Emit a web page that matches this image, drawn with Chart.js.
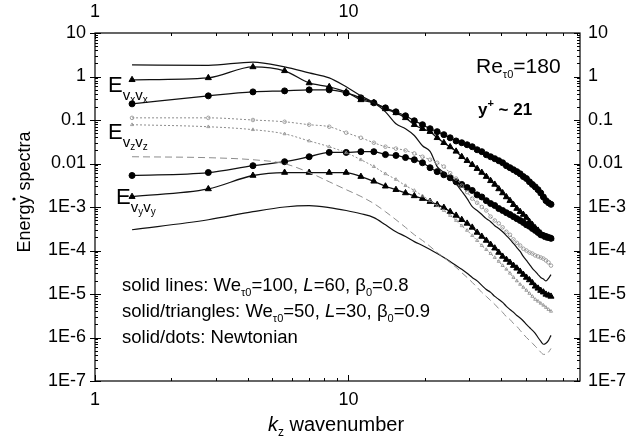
<!DOCTYPE html>
<html>
<head>
<meta charset="utf-8">
<script src="https://cdn.jsdelivr.net/npm/chart.js@4"></script>
<style>
  html, body { margin: 0; padding: 0; background: #fff; }
  #wrap { width: 643px; height: 437px; }
</style>
</head>
<body>
<div id="wrap"><canvas id="chart" width="643" height="437"></canvas></div>
<script>
// wavenumbers kz (the same grid for every curve)
var kz = [1.4, 2.8, 4.2, 5.6, 7.0, 8.4, 9.8, 11.2, 12.6, 14.0, 15.4, 16.8, 18.2, 19.6, 21.0,
  22.4, 23.8, 25.2, 26.6, 28.0, 29.4, 30.8, 32.2, 33.6, 35.0, 36.4, 37.8, 39.2, 40.6, 42.0,
  43.4, 44.8, 46.2, 47.6, 49.0, 50.4, 51.8, 53.2, 54.6, 56.0, 57.4, 58.8, 60.2, 61.6, 63.0];

// Evxvx
var vxLines = [1.85, 1.8, 2.15, 1.66, 1.21, 0.93, 0.58, 0.36, 0.248, 0.154, 0.082, 0.063, 0.044, 0.0256, 0.019,
  0.0085, 0.0062, 0.0045, 0.0034, 0.0023, 0.00156, 0.00102, 8.3e-4, 6.7e-4, 5.4e-4, 4.6e-4, 3.7e-4, 3.2e-4, 2.7e-4, 2.2e-4,
  1.8e-4, 1.45e-4, 1.17e-4, 9.5e-5, 7.3e-5, 5.9e-5, 4.8e-5, 3.9e-5, 3.3e-5, 2.8e-5, 2.4e-5, 2.2e-5, 2.0e-5, 2.3e-5, 2.8e-5];
var vxTriangles = [0.84, 0.93, 1.66, 1.35, 0.71, 0.58, 0.44, 0.29, 0.25, 0.18, 0.146, 0.112, 0.078, 0.063, 0.054,
  0.039, 0.030, 0.024, 0.019, 0.0143, 0.0116, 0.0094, 0.0076, 0.0062, 0.0050, 0.0040, 0.0033, 0.0026, 0.0021, 0.0017,
  0.0014, 0.00113, 0.00092, 0.00078, 0.00067, 0.00057, 0.00046, 0.00039, 0.00033, 0.00029, 0.00025, 0.00022, 0.0002, 0.00019, 0.00019];
var vxDots = [0.235, 0.359, 0.443, 0.467, 0.493, 0.493, 0.42, 0.323, 0.248, 0.19, 0.154, 0.125, 0.096, 0.078, 0.063,
  0.054, 0.046, 0.039, 0.033, 0.030, 0.027, 0.0243, 0.0207, 0.0187, 0.0159, 0.0143, 0.0129, 0.0116, 0.0104, 0.0089,
  0.0080, 0.0072, 0.0065, 0.0058, 0.0050, 0.0045, 0.0038, 0.0033, 0.0029, 0.0025, 0.0021, 0.0017, 0.0014, 0.00125, 0.00115];

// Evyvy
var vyLines = [3.0e-4, 5.1e-4, 7.8e-4, 1.0e-3, 1.07e-3, 9.7e-4, 8.3e-4, 7.0e-4, 5.7e-4, 3.9e-4, 2.7e-4, 2.1e-4, 1.6e-4, 1.3e-4, 1.05e-4,
  8.5e-5, 6.9e-5, 5.6e-5, 4.5e-5, 3.7e-5, 3.0e-5, 2.4e-5, 2.0e-5, 1.58e-5, 1.27e-5, 1.09e-5, 8.8e-6, 7.5e-6, 6.4e-6, 5.2e-6,
  4.4e-6, 3.8e-6, 3.2e-6, 2.8e-6, 2.4e-6, 2.0e-6, 1.7e-6, 1.46e-6, 1.25e-6, 1.0e-6, 8.2e-7, 7.0e-7, 7.4e-7, 8.6e-7, 1.12e-6];
var vyTriangles = [1.73e-3, 2.6e-3, 5.3e-3, 6.2e-3, 6.2e-3, 6.2e-3, 6.2e-3, 5.0e-3, 3.9e-3, 3.0e-3, 2.5e-3, 2.1e-3, 1.8e-3, 1.56e-3, 1.33e-3,
  1.13e-3, 9.7e-4, 7.8e-4, 6.4e-4, 5.1e-4, 4.2e-4, 3.4e-4, 2.6e-4, 2.1e-4, 1.7e-4, 1.37e-4, 1.13e-4, 9.0e-5, 7.3e-5, 6.2e-5,
  5.3e-5, 4.5e-5, 3.9e-5, 3.3e-5, 2.8e-5, 2.4e-5, 2.1e-5, 1.8e-5, 1.5e-5, 1.35e-5, 1.2e-5, 1.1e-5, 9.8e-6, 9.3e-6, 8.8e-6];
var vyDots = [0.0053, 0.0062, 0.0089, 0.011, 0.0143, 0.018, 0.018, 0.0187, 0.0187, 0.016, 0.0153, 0.0137, 0.0122, 0.0104, 0.008,
  0.0065, 0.0055, 0.0047, 0.0038, 0.0033, 0.0028, 0.0024, 0.0019, 0.0017, 0.0014, 0.0012, 0.00108, 0.00092, 0.00083, 0.00074,
  0.00067, 0.0006, 0.00054, 0.00049, 0.00044, 0.00039, 0.00036, 0.00032, 0.00029, 0.00026, 0.00023, 0.00022, 0.00021, 0.0002, 0.00019];

// Evzvz (grey curves)
var vzLines = [0.0143, 0.0136, 0.0122, 0.0099, 0.0062, 0.0038, 0.0025, 0.00175, 0.0012, 7.8e-4, 5.1e-4, 3.4e-4, 2.3e-4, 1.7e-4, 1.24e-4,
  9.0e-5, 6.9e-5, 5.3e-5, 4.1e-5, 3.1e-5, 2.4e-5, 1.85e-5, 1.42e-5, 1.09e-5, 8.8e-6, 7.1e-6, 5.8e-6, 4.6e-6, 3.8e-6, 3.0e-6,
  2.6e-6, 2.1e-6, 1.8e-6, 1.46e-6, 1.2e-6, 1.0e-6, 8.6e-7, 7.4e-7, 6.3e-7, 5.4e-7, 4.6e-7, 4.1e-7, 4.1e-7, 4.6e-7, 5.6e-7];
var vzTriangles = [0.078, 0.070, 0.060, 0.048, 0.033, 0.0243, 0.0177, 0.0122, 0.0085, 0.0058, 0.0043, 0.0031, 0.0024, 0.0018, 0.0014,
  0.00107, 8.3e-4, 6.4e-4, 4.9e-4, 3.7e-4, 2.9e-4, 2.2e-4, 1.7e-4, 1.3e-4, 1.05e-4, 8.5e-5, 6.9e-5, 5.6e-5, 4.5e-5, 3.7e-5,
  3.0e-5, 2.4e-5, 2.0e-5, 1.66e-5, 1.42e-5, 1.21e-5, 1.03e-5, 8.8e-6, 7.5e-6, 6.8e-6, 6.1e-6, 5.5e-6, 4.9e-6, 4.4e-6, 4.0e-6];
var vzDots = [0.112, 0.112, 0.1, 0.091, 0.078, 0.07, 0.051, 0.039, 0.030, 0.0243, 0.022, 0.020, 0.017, 0.0143, 0.0122,
  0.0104, 0.0085, 0.006, 0.0045, 0.0031, 0.0022, 0.00156, 0.00125, 1.0e-3, 8.3e-4, 6.0e-4, 4.9e-4, 4.2e-4, 3.4e-4, 2.7e-4,
  2.3e-4, 1.8e-4, 1.5e-4, 1.3e-4, 1.1e-4, 1.0e-4, 9.0e-5, 8.5e-5, 7.7e-5, 7.3e-5, 6.9e-5, 6.5e-5, 5.9e-5, 5.3e-5, 4.5e-5];

// axis tick labels, keyed by power of ten
var xTickLabels = { 0: '1', 1: '10' };
var yTickLabels = { 1: '10', 0: '1', '-1': '0.1', '-2': '0.01', '-3': '1E-3', '-4': '1E-4', '-5': '1E-5', '-6': '1E-6', '-7': '1E-7' };

var FONT = 'Arial, "Liberation Sans", sans-serif';
var grey = '#8c8c8c';

function pts(arr) {
  return kz.map(function(k, i) { return { x: k, y: arr[i] }; });
}

function solid(arr) {
  return { data: pts(arr), borderColor: '#111', borderWidth: 1.2, pointRadius: 0, cubicInterpolationMode: 'monotone' };
}
function marked(arr, style, r) {
  return { data: pts(arr), borderColor: '#111', borderWidth: 1.3, pointStyle: style, pointRadius: r,
    pointBackgroundColor: '#000', pointBorderColor: '#000', pointBorderWidth: 1, cubicInterpolationMode: 'monotone' };
}
function greyLine(arr, dash, style) {
  return { data: pts(arr), borderColor: grey, borderWidth: 1, borderDash: dash,
    pointStyle: style || 'circle', pointRadius: style ? 1.8 : 0, pointBackgroundColor: 'rgba(0,0,0,0)',
    pointBorderColor: grey, pointBorderWidth: 0.8, cubicInterpolationMode: 'monotone' };
}

function decadeLabel(map) {
  return function(v) {
    var e = Math.round(Math.log10(v));
    if (Math.abs(v - Math.pow(10, e)) / Math.pow(10, e) > 1e-6) return '';
    return map[e] || '';
  };
}

// draws a run of text pieces: [text, size, dy, style]
function run(ctx, x, y, parts) {
  parts.forEach(function(p) {
    ctx.font = (p[3] || '') + ' ' + p[1] + 'px ' + FONT;
    ctx.fillText(p[0], x, y + (p[2] || 0));
    x += ctx.measureText(p[0]).width;
  });
}

function eLabel(ctx, x, y, c) {
  run(ctx, x, y, [['E', 22], ['v', 15, 8], [c, 10, 11], ['v', 15, 8], [c, 10, 11]]);
}

var frame = {
  id: 'frame',
  afterDraw: function(chart) {
    var c = chart.ctx, a = chart.chartArea, sx = chart.scales.x, sy = chart.scales.y;
    c.save();
    c.strokeStyle = '#000';
    c.lineWidth = 1.2;
    c.strokeRect(a.left, a.top, a.right - a.left, a.bottom - a.top);
    c.lineWidth = 1;
    c.beginPath();
    for (var e = 0; e <= 1; e++) {
      for (var m = 1; m <= 9; m++) {
        var v = m * Math.pow(10, e);
        if (v > sx.max) break;
        var px = Math.round(sx.getPixelForValue(v)) + 0.5;
        var len = m === 1 ? 6 : 3;
        c.moveTo(px, a.bottom); c.lineTo(px, a.bottom - len);
        c.moveTo(px, a.top); c.lineTo(px, a.top + len);
      }
    }
    for (e = -7; e <= 1; e++) {
      for (m = 1; m <= 9; m++) {
        v = m * Math.pow(10, e);
        if (v > sy.max * 1.0001) break;
        var py = Math.round(sy.getPixelForValue(v)) + 0.5;
        len = m === 1 ? 6 : 3;
        c.moveTo(a.left - (m === 1 ? 5 : 0), py); c.lineTo(a.left + len, py);
        c.moveTo(a.right, py); c.lineTo(a.right - len, py);
      }
    }
    c.stroke();

    c.fillStyle = '#000';
    c.textBaseline = 'alphabetic';
    c.textAlign = 'left';
    eLabel(c, 108, 92, 'x');
    eLabel(c, 108, 139, 'z');
    eLabel(c, 116, 204, 'y');

    run(c, 476, 73, [['Re', 21], ['\u03c40', 11, 5], ['=180', 21]]);
    run(c, 478, 115, [['y', 17, 0, 'bold'], ['+', 11, -8, 'bold'], [' ~ 21', 17, 0, 'bold']]);

    run(c, 122, 291, [['solid lines: We', 18.5], ['\u03c40', 11, 5], ['=100, ', 18.5], ['L', 18.5, 0, 'italic'],
      ['=60, \u03b2', 18.5], ['0', 11, 5], ['=0.8', 18.5]]);
    run(c, 122, 317, [['solid/triangles: We', 18.5], ['\u03c40', 11, 5], ['=50, ', 18.5], ['L', 18.5, 0, 'italic'],
      ['=30, \u03b2', 18.5], ['0', 11, 5], ['=0.9', 18.5]]);
    run(c, 122, 343, [['solid/dots: Newtonian', 18.5]]);

    // axis titles
    run(c, 268, 431, [['k', 20, 0, 'italic'], ['z', 12, 5], [' wavenumber', 20]]);
    c.save();
    c.translate(30, 192);
    c.rotate(-Math.PI / 2);
    c.textAlign = 'center';
    c.font = '18px ' + FONT;
    c.fillText('Energy spectra', 0, 0);
    c.restore();
    c.beginPath();
    c.arc(14, 199, 1.6, 0, Math.PI * 2);
    c.fill();
    c.restore();
  }
};

var tickFont = { family: FONT, size: 18 };

function xAxis(pos, h, pad) {
  return {
    type: 'logarithmic', position: pos, min: 1, max: 82,
    grid: { display: false, drawTicks: false }, border: { display: false },
    ticks: { font: tickFont, color: '#000', autoSkip: false, maxRotation: 0, padding: pad,
      callback: decadeLabel(xTickLabels) },
    afterFit: function(s) { s.height = h; }
  };
}
function yAxis(pos, w, pad) {
  return {
    type: 'logarithmic', position: pos, min: 1e-7, max: 10,
    grid: { display: false, drawTicks: false }, border: { display: false },
    ticks: { font: tickFont, color: '#000', autoSkip: false, padding: pad,
      callback: decadeLabel(yTickLabels) },
    afterFit: function(s) { s.width = w; }
  };
}

new Chart(document.getElementById('chart').getContext('2d'), {
  type: 'line',
  data: {
    datasets: [
      greyLine(vzLines, [7, 4]),
      greyLine(vzTriangles, [2, 2], 'triangle'),
      greyLine(vzDots, [2, 2], 'circle'),
      solid(vyLines),
      solid(vxLines),
      marked(vyTriangles, 'triangle', 3.5),
      marked(vxTriangles, 'triangle', 3.5),
      marked(vyDots, 'circle', 3),
      marked(vxDots, 'circle', 3)
    ]
  },
  options: {
    responsive: false,
    animation: false,
    devicePixelRatio: 1,
    layout: { padding: 0 },
    plugins: { legend: { display: false }, tooltip: { enabled: false } },
    scales: {
      x: xAxis('bottom', 56, 8),
      x2: xAxis('top', 33, 10),
      y: yAxis('left', 95, 9),
      y2: yAxis('right', 63, 8)
    }
  },
  plugins: [frame]
});
</script>
</body>
</html>
